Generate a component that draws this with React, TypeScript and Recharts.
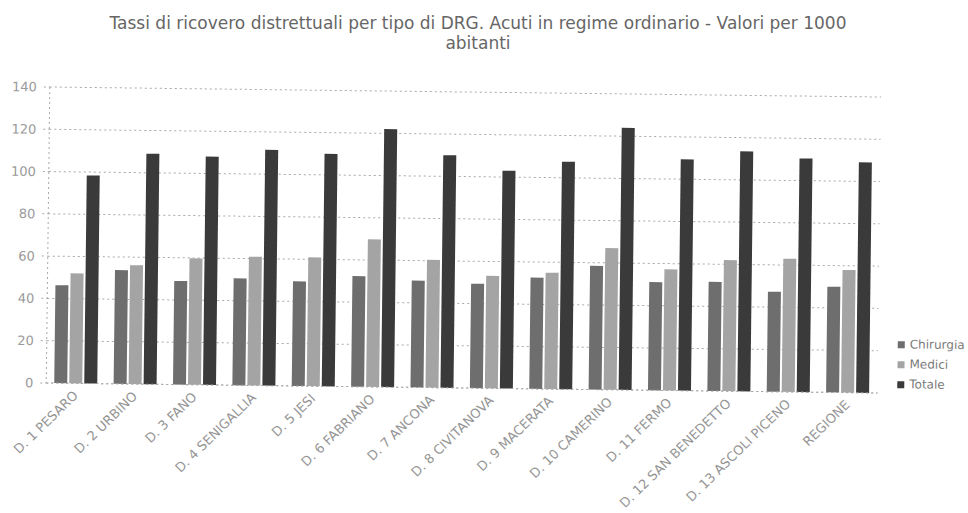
import React from 'react';
import { BarChart, Bar, XAxis, YAxis, CartesianGrid, Legend } from 'recharts';

const categories = [
  'D. 1 PESARO',
  'D. 2 URBINO',
  'D. 3 FANO',
  'D. 4 SENIGALLIA',
  'D. 5 JESI',
  'D. 6 FABRIANO',
  'D. 7 ANCONA',
  'D. 8 CIVITANOVA',
  'D. 9 MACERATA',
  'D. 10 CAMERINO',
  'D. 11 FERMO',
  'D. 12 SAN BENEDETTO',
  'D. 13 ASCOLI PICENO',
  'REGIONE',
];
const chirurgia = [46.3, 53.8, 49, 50.6, 49.5, 52.3, 50.5, 49.4, 52.6, 58.5, 51.2, 51.6, 47.3, 50];
const medici = [52, 56.2, 59.8, 60.9, 60.9, 69.8, 60.4, 53.2, 55, 67, 57.3, 62, 63, 58];
const totale = [98.4, 109, 108, 111.5, 110, 122, 110, 103, 107.6, 124, 109.4, 113.5, 110.5, 109];
const yTicks = [0, 20, 40, 60, 80, 100, 120, 140];
const seriesNames = ['Chirurgia', 'Medici', 'Totale'];
const seriesColors = ['#6e6e6e', '#a4a4a4', '#3a3a3a'];

const data = categories.map((name, i) => ({
  name,
  Chirurgia: chirurgia[i],
  Medici: medici[i],
  Totale: totale[i],
}));

const FONT = 'DejaVu Sans, Verdana, sans-serif';

const XTick = (props: any) => {
  const { x, y, payload } = props;
  const ax = x + 3;
  const ay = y + 5;
  return (
    <text
      x={ax}
      y={ay}
      textAnchor="end"
      transform={`rotate(-45 ${ax} ${ay})`}
      fontSize={13}
      fill="#959595"
      fontFamily={FONT}
    >
      {payload.value}
    </text>
  );
};

const LegendContent = () => (
  <div style={{ fontFamily: FONT, fontSize: 12, color: '#7a7a7a' }}>
    {seriesNames.map((n, i) => (
      <div key={n} style={{ height: 20, display: 'flex', alignItems: 'center', whiteSpace: 'nowrap' }}>
        <span style={{ display: 'inline-block', width: 7, height: 7, background: seriesColors[i], marginRight: 5 }} />
        <span>{n}</span>
      </div>
    ))}
  </div>
);

export default function App() {
  return (
    <div style={{ position: 'absolute', left: 0, top: 0, width: 968, height: 513, background: '#fff', overflow: 'hidden' }}>
      <div
        style={{
          position: 'absolute',
          left: 0,
          top: 13,
          width: 956,
          textAlign: 'center',
          fontFamily: FONT,
          fontSize: 17,
          fontWeight: 'normal',
          color: '#666666',
          lineHeight: '20px',
        }}
      >
        Tassi di ricovero distrettuali per tipo di DRG. Acuti in regime ordinario - Valori per 1000
        <br />
        abitanti
      </div>
      <div
        style={{
          position: 'absolute',
          left: 0,
          top: 0,
          width: 968,
          height: 513,
          transform: 'rotate(0.69deg)',
          transformOrigin: '464px 240px',
        }}
      >
        <BarChart
          width={968}
          height={513}
          data={data}
          margin={{ top: 92, right: 8, bottom: 5, left: 8 }}
          barSize={13}
          barGap={2}
        >
          <CartesianGrid vertical={false} stroke="#a8a8a8" strokeDasharray="2 3" />
          <XAxis
            dataKey="name"
            interval={0}
            height={120}
            tick={<XTick />}
            tickLine={false}
            axisLine={{ stroke: '#a8a8a8', strokeDasharray: '2 3' }}
          />
          <YAxis
            domain={[0, 140]}
            ticks={yTicks}
            width={40}
            tickSize={6}
            tickMargin={7}
            tick={{ fontSize: 13, fill: '#9a9a9a', fontFamily: FONT }}
            tickLine={{ stroke: '#a8a8a8', strokeDasharray: '2 3' }}
            axisLine={{ stroke: '#a8a8a8', strokeDasharray: '2 3' }}
          />
          <YAxis
            yAxisId="r"
            orientation="right"
            domain={[0, 140]}
            width={0}
            tick={false}
            tickLine={false}
            axisLine={{ stroke: '#a8a8a8', strokeDasharray: '2 3' }}
          />
          <Legend
            layout="vertical"
            align="right"
            verticalAlign="middle"
            content={<LegendContent />}
            wrapperStyle={{ position: 'absolute', left: 899, top: 329, width: 80 }}
          />
          {seriesNames.map((n, i) => (
            <Bar key={n} dataKey={n} fill={seriesColors[i]} isAnimationActive={false} />
          ))}
        </BarChart>
      </div>
    </div>
  );
}
